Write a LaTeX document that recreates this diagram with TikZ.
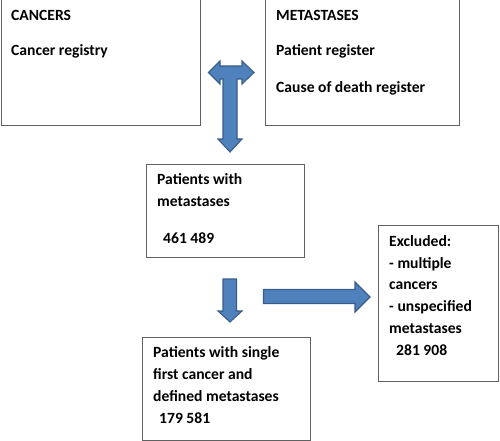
\documentclass[tikz,border=0pt]{standalone}
\usepackage{fontspec}
\setmainfont{Carlito}
\begin{document}
\begin{tikzpicture}[x=1pt,y=-1pt,
  box/.style={draw=black!62,line width=0.9pt,fill=white,inner sep=0pt,anchor=north west},
  txt/.style={anchor=base west,inner sep=0pt,font=\fontsize{15.6}{18}\selectfont\bfseries},
  blockarrow/.style={fill=arrowfill,draw=arrowline,line width=1.1pt,line join=miter}]
\definecolor{arrowfill}{HTML}{4F81BD}
\definecolor{arrowline}{HTML}{385D8A}
\useasboundingbox (0,0) rectangle (500,441);
% boxes
\node[box,minimum width=199pt,minimum height=127pt] (cancers) at (0.5,-2) {};
\node[box,minimum width=194pt,minimum height=127pt] (meta) at (265,-2) {};
\node[box,minimum width=158pt,minimum height=93pt] (pwm) at (146,164) {};
\node[box,minimum width=120pt,minimum height=156pt] (excl) at (378,225) {};
\node[box,minimum width=168pt,minimum height=103pt] (single) at (142,337) {};
% texts
\node[txt] (t1) at (11,21) {CANCERS};
\node[txt] (t2) at (11,56) {Cancer registry};
\node[txt] (t3) at (276,21) {METASTASES};
\node[txt] (t4) at (276,56) {Patient register};
\node[txt] (t5) at (276,93) {Cause of death register};
\node[txt] (t6) at (157,184) {Patients with};
\node[txt] (t7) at (157,206) {metastases};
\node[txt] (t8) at (163,243) {461 489};
\node[txt] (t9) at (389,246) {Excluded:};
\node[txt] (t10) at (389,268) {- multiple};
\node[txt] (t11) at (389,289) {cancers};
\node[txt] (t12) at (389,311) {- unspecified};
\node[txt] (t13) at (389,333) {metastases};
\node[txt] (t14) at (396,355) {281 908};
\node[txt] (t15) at (153,357) {Patients with single};
\node[txt] (t16) at (153,379) {first cancer and};
\node[txt] (t17) at (153,401) {defined metastases};
\node[txt] (t18) at (159,423) {179 581};
% T-shaped double arrow between the source boxes and the patients box
\coordinate (tL) at (208.5,72.5);
\coordinate (tR) at (254,72.5);
\coordinate (tD) at (230,152);
\draw[blockarrow] (tL) -- (220,61) -- (220,66) -- (242,66) -- (242,61) -- (tR)
  -- (242,84) -- (242,79) -- (237,79) -- (237,139) -- (242,139) -- (tD)
  -- (218,139) -- (223,139) -- (223,79) -- (220,79) -- (220,84) -- cycle;
% down arrow
\coordinate (dD) at (230,322);
\draw[blockarrow] (223,279) -- (236.5,279) -- (236.5,311) -- (242,311) -- (dD)
  -- (218,311) -- (223,311) -- cycle;
% right arrow towards excluded box
\coordinate (rR) at (370,297);
\draw[blockarrow] (263.5,289.5) -- (355,289.5) -- (355,282) -- (rR) -- (355,312)
  -- (355,303.5) -- (263.5,303.5) -- cycle;
\end{tikzpicture}
\end{document}
